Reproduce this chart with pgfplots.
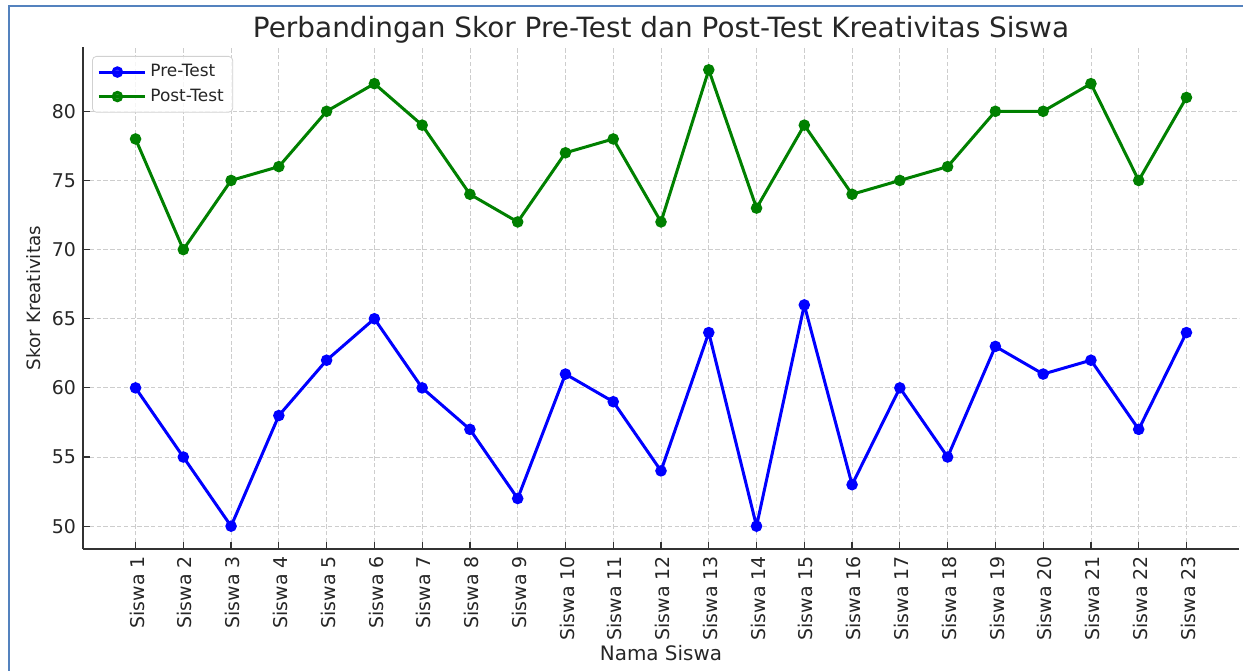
\documentclass[border=0pt]{standalone}
\usepackage{pgfplots}
\pgfplotsset{compat=1.18}
\usepackage{fontspec}
\setmainfont{DejaVu Sans}
\definecolor{txt}{RGB}{38,38,38}
\definecolor{spine}{RGB}{50,50,50}
\definecolor{frameblue}{RGB}{84,130,190}
\definecolor{mplgreen}{RGB}{0,128,0}
\definecolor{mplblue}{RGB}{0,0,255}
\definecolor{gridc}{RGB}{205,205,205}
\begin{document}
\begin{tikzpicture}
\useasboundingbox (0,0) rectangle (621.5bp,335.5bp);
\draw[frameblue, line width=1bp] (4.5bp,0) -- (4.5bp,332.5bp) -- (621.5bp,332.5bp);
\begin{axis}[
  at={(41.5bp,61bp)}, anchor=south west,
  scale only axis, width=578bp, height=251bp,
  xmin=-0.1, xmax=24.1, ymin=48.35, ymax=84.65,
  axis x line=bottom, axis y line=left,
  axis line style={-, spine, line width=0.9bp},
  tick align=inside, major tick length=3.5bp,
  tick style={spine, line width=0.6bp},
  grid=major,
  grid style={gridc, line width=0.4bp, dash pattern=on 2.2bp off 1.2bp},
  xtick={1,...,23},
  xticklabels={Siswa 1,Siswa 2,Siswa 3,Siswa 4,Siswa 5,Siswa 6,Siswa 7,Siswa 8,Siswa 9,Siswa 10,Siswa 11,Siswa 12,Siswa 13,Siswa 14,Siswa 15,Siswa 16,Siswa 17,Siswa 18,Siswa 19,Siswa 20,Siswa 21,Siswa 22,Siswa 23},
  ytick={50,55,...,80},
  /pgf/number format/assume math mode=true,
  ticklabel style={font=\fontsize{9.5}{11}\selectfont, text=txt},
  xticklabel style={rotate=90, anchor=east, yshift=-0.8bp},
  every axis title shift=0pt,
  title={Perbandingan Skor Pre-Test dan Post-Test Kreativitas Siswa},
  title style={at={(axis description cs:0.5,1)}, anchor=base, yshift=4.5bp, font=\fontsize{14}{16}\selectfont, text=txt},
  xlabel={Nama Siswa},
  xlabel style={at={(axis description cs:0.5,0)}, anchor=base, yshift=-55.5bp, font=\fontsize{10}{12}\selectfont, text=txt},
  ylabel={Skor Kreativitas},
  ylabel style={at={(axis description cs:0,0.5)}, rotate=0, anchor=base, yshift=21.5bp, font=\fontsize{9.2}{11}\selectfont, text=txt},
  legend cell align=left,
  legend image code/.code={%
    \draw[mark repeat=2,mark phase=2,#1] plot coordinates {(0bp,0bp)(9.25bp,0bp)(18.5bp,0bp)};
    \path (0bp,0bp) -- (23bp,0bp);},
  legend style={at={(axis description cs:0,1)}, anchor=north west, xshift=4.5bp, yshift=-4.5bp,
    draw=black!18, fill=white, fill opacity=0.8, text opacity=1, rounded corners=2bp,
    font=\fontsize{8.5}{10}\selectfont, text=txt, row sep=0.6bp, inner xsep=2.5bp, inner ysep=2bp},
]
\addplot[mplblue, line width=1.5bp, mark=*, mark size=2.1bp, mark options={solid, fill=mplblue, draw=mplblue}]
coordinates {(1,60)(2,55)(3,50)(4,58)(5,62)(6,65)(7,60)(8,57)(9,52)(10,61)(11,59)(12,54)(13,64)(14,50)(15,66)(16,53)(17,60)(18,55)(19,63)(20,61)(21,62)(22,57)(23,64)};
\addlegendentry{Pre-Test}
\addplot[mplgreen, line width=1.5bp, mark=*, mark size=2.1bp, mark options={solid, fill=mplgreen, draw=mplgreen}]
coordinates {(1,78)(2,70)(3,75)(4,76)(5,80)(6,82)(7,79)(8,74)(9,72)(10,77)(11,78)(12,72)(13,83)(14,73)(15,79)(16,74)(17,75)(18,76)(19,80)(20,80)(21,82)(22,75)(23,81)};
\addlegendentry{Post-Test}
\end{axis}
\end{tikzpicture}
\end{document}
